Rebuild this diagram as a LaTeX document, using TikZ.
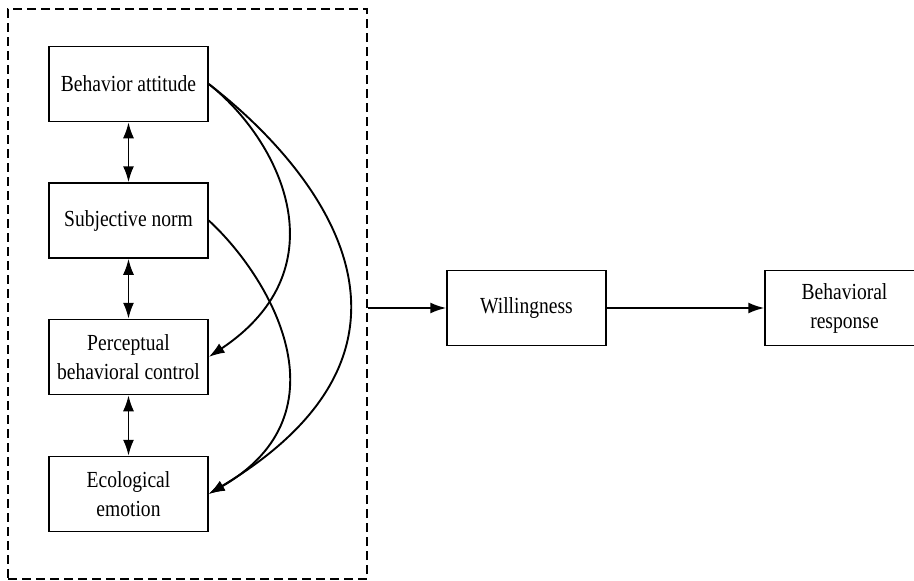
\documentclass[tikz,border=0pt]{standalone}
\usepackage{fontspec}
\setmainfont[FakeStretch=0.85]{Liberation Serif}
\usetikzlibrary{arrows.meta}

\begin{document}
\begin{tikzpicture}[x=1pt, y=-1pt,
    box/.style={draw, line width=1.5pt, minimum width=159pt, minimum height=75pt,
      inner sep=0pt, align=center, font=\fontsize{23}{29}\selectfont},
    link/.style={line width=1.9pt, -{Latex[length=16pt,width=11pt]}},
    both/.style={line width=1.9pt, {Latex[length=16pt,width=11pt]}-{Latex[length=16pt,width=11pt]}}]
  \useasboundingbox (0,0) rectangle (914,581);
  % dashed frame round the four factors
  \node[draw, dash pattern=on 9pt off 5pt, line width=1.5pt, minimum width=359pt,
    minimum height=570pt, inner sep=0pt] (frame) at (187.5,294) {};
  % factors
  \node[box] (BA) at (128.5,84) {Behavior attitude};
  \node[box] (SN) at (128.5,220.5) {Subjective norm};
  \node[box] (PBC) at (128.5,357) {Perceptual\\behavioral control};
  \node[box] (EE) at (128.5,494) {Ecological\\emotion};
  % outcome
  \node[box] (W) at (526.5,308) {Willingness};
  \node[box] (BR) at (844.5,308) {Behavioral\\response};
  \draw[both] (BA) -- (SN);
  \draw[both] (SN) -- (PBC);
  \draw[both] (PBC) -- (EE);
  \draw[link] (BA.east) .. controls +(70,55) and +(135,-90) .. (PBC.east);
  \draw[link] (BA.east) .. controls +(110,85) and +(250,-150) .. (EE.east);
  \draw[link] (SN.east) .. controls +(60,55) and +(142,-82) .. (EE.east);
  \draw[link] (frame.east |- W.west) -- (W);
  \draw[link] (W) -- (BR);
\end{tikzpicture}
\end{document}
